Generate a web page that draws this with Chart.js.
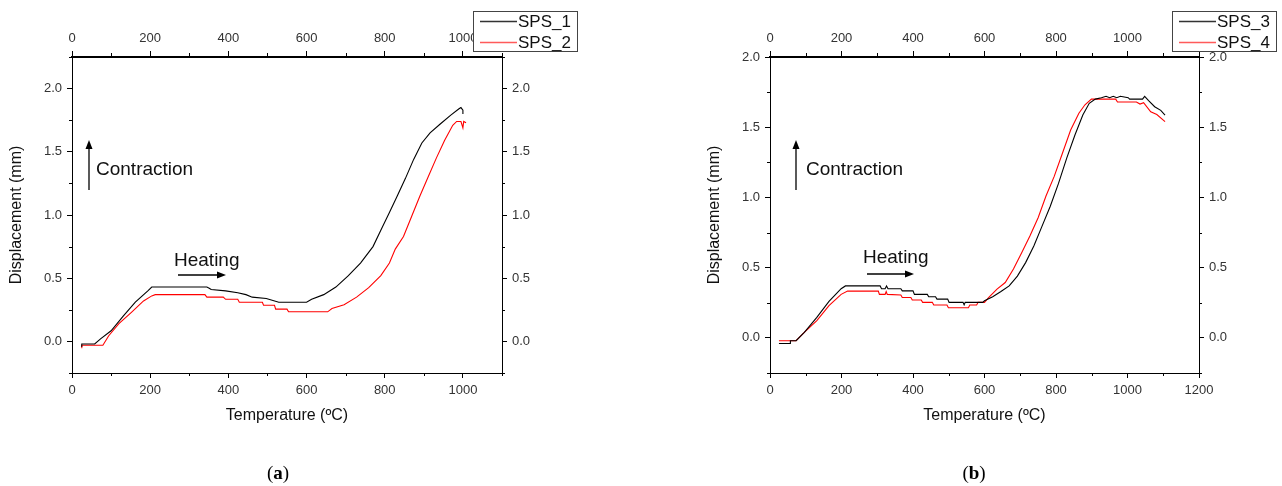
<!DOCTYPE html>
<html>
<head>
<meta charset="utf-8">
<script src="https://cdn.jsdelivr.net/npm/chart.js@4"></script>
<style>
body { margin: 0; background: #fff; }
#wrap { position: relative; width: 1282px; height: 486px; }
canvas { position: absolute; top: 0; }
</style>
</head>
<body>
<div id="wrap">
  <canvas id="chartA" width="641" height="486" style="left:0"></canvas>
  <canvas id="chartB" width="641" height="486" style="left:641px"></canvas>
</div>
<script>
// ---- panel (a) ----
const tempSPS1 = [24, 25, 58, 73, 100, 131, 162, 194, 204, 215, 345, 351, 356, 393, 424, 445, 461, 497, 529, 600, 613, 644, 675, 707, 738, 770, 790, 812, 832, 853, 874, 895, 916, 942, 969, 990, 995, 1000, 1000];
const dispSPS1 = [-0.04, -0.02, -0.02, 0.02, 0.084, 0.2, 0.31, 0.40, 0.43, 0.43, 0.43, 0.42, 0.41, 0.40, 0.385, 0.37, 0.35, 0.34, 0.31, 0.31, 0.333, 0.37, 0.43, 0.52, 0.62, 0.75, 0.88, 1.02, 1.15, 1.29, 1.44, 1.57, 1.65, 1.72, 1.79, 1.84, 1.85, 1.83, 1.80];

const tempSPS2 = [24, 25, 79, 94, 120, 152, 183, 204, 213, 340, 345, 387, 393, 424, 428, 487, 490, 518, 521, 550, 554, 654, 665, 696, 728, 759, 790, 812, 827, 848, 869, 890, 911, 932, 953, 974, 984, 995, 1000, 1002, 1008];
const dispSPS2 = [-0.05, -0.03, -0.03, 0.045, 0.14, 0.23, 0.32, 0.36, 0.37, 0.37, 0.35, 0.35, 0.333, 0.333, 0.31, 0.31, 0.286, 0.286, 0.255, 0.255, 0.234, 0.234, 0.26, 0.29, 0.35, 0.425, 0.52, 0.62, 0.73, 0.83, 0.99, 1.15, 1.30, 1.45, 1.59, 1.71, 1.74, 1.74, 1.69, 1.74, 1.73];

// ---- panel (b) ----
const tempSPS3 = [25, 56, 57, 73, 96, 131, 165, 199, 211, 308, 312, 322, 326, 330, 366, 370, 400, 404, 440, 444, 463, 467, 497, 501, 540, 543, 546, 595, 600, 623, 646, 669, 692, 715, 738, 761, 784, 807, 830, 853, 875, 893, 910, 927, 940, 950, 960, 970, 980, 1002, 1006, 1042, 1048, 1059, 1076, 1093, 1105];
const dispSPS3 = [-0.04, -0.04, -0.02, -0.02, 0.04, 0.146, 0.26, 0.35, 0.37, 0.37, 0.35, 0.35, 0.37, 0.35, 0.35, 0.335, 0.335, 0.31, 0.31, 0.293, 0.293, 0.276, 0.276, 0.253, 0.253, 0.235, 0.253, 0.253, 0.264, 0.293, 0.33, 0.37, 0.44, 0.536, 0.654, 0.796, 0.937, 1.10, 1.28, 1.445, 1.587, 1.67, 1.70, 1.71, 1.72, 1.71, 1.72, 1.71, 1.72, 1.71, 1.70, 1.70, 1.72, 1.69, 1.646, 1.62, 1.587];

const tempSPS4 = [25, 73, 96, 131, 165, 199, 217, 303, 306, 322, 325, 328, 366, 370, 394, 398, 423, 427, 454, 458, 495, 499, 555, 559, 578, 582, 600, 612, 635, 658, 681, 704, 727, 750, 772, 795, 818, 841, 864, 881, 899, 967, 972, 1025, 1035, 1045, 1065, 1082, 1105];
const dispSPS4 = [-0.02, -0.02, 0.04, 0.123, 0.23, 0.31, 0.333, 0.333, 0.31, 0.31, 0.33, 0.31, 0.305, 0.288, 0.288, 0.27, 0.27, 0.253, 0.253, 0.234, 0.234, 0.215, 0.215, 0.234, 0.234, 0.253, 0.253, 0.288, 0.347, 0.394, 0.49, 0.607, 0.725, 0.855, 1.01, 1.15, 1.315, 1.48, 1.60, 1.66, 1.70, 1.70, 1.68, 1.68, 1.665, 1.675, 1.61, 1.59, 1.54];

// tick values
const xTicksA = [0, 200, 400, 600, 800, 1000];
const xTicksB = [0, 200, 400, 600, 800, 1000, 1200];
const yTicksA = [0, 0.5, 1.0, 1.5, 2.0];
const yTicksB = [0, 0.5, 1.0, 1.5, 2.0];

const FONT = "'Liberation Sans', Arial, sans-serif";

function pts(xs, ys) {
  return xs.map((x, i) => ({ x: x, y: ys[i] }));
}

function minorOf(ticks, step, min, max) {
  const out = [];
  for (let v = ticks[0] - step / 2; v <= max + 1e-9; v += step) {
    if (v >= min - 1e-9) out.push(v);
  }
  return out;
}

function line(ctx, x1, y1, x2, y2) {
  ctx.beginPath(); ctx.moveTo(x1, y1); ctx.lineTo(x2, y2); ctx.stroke();
}

function arrow(ctx, x1, y1, x2, y2) {
  const a = Math.atan2(y2 - y1, x2 - x1);
  const len = 9, w = 3.5;
  const bx = x2 - len * Math.cos(a), by = y2 - len * Math.sin(a);
  ctx.lineWidth = 1.3;
  line(ctx, x1, y1, bx, by);
  ctx.beginPath();
  ctx.moveTo(x2, y2);
  ctx.lineTo(bx + w * Math.sin(a), by - w * Math.cos(a));
  ctx.lineTo(bx - w * Math.sin(a), by + w * Math.cos(a));
  ctx.closePath();
  ctx.fill();
}

const decor = {
  id: 'decor',
  afterDraw(chart, args, o) {
    const ctx = chart.ctx;
    const ca = chart.chartArea;
    const s = chart.scales;
    ctx.save();
    ctx.strokeStyle = '#000';
    ctx.fillStyle = '#000';
    ctx.lineWidth = 1;

    // minor ticks
    const xMin = minorOf(o.xTicks, o.xStep, s.x.min, s.x.max);
    xMin.forEach(v => {
      const px = Math.round(s.x.getPixelForValue(v)) + 0.5;
      line(ctx, px, ca.bottom, px, ca.bottom + 3);
      line(ctx, px, ca.top, px, ca.top - 4);
    });
    const yMin = minorOf(o.yTicks, o.yStep, s.y.min, s.y.max);
    yMin.forEach(v => {
      const py = Math.round(s.y.getPixelForValue(v)) + 0.5;
      line(ctx, ca.left, py, ca.left - 3, py);
      line(ctx, ca.right, py, ca.right + 3, py);
    });

    // annotations
    arrow(ctx, o.up.x, o.up.y1, o.up.x, o.up.y2);
    arrow(ctx, o.right.x1, o.right.y, o.right.x2, o.right.y);
    ctx.font = '19px ' + FONT;
    ctx.fillStyle = '#111';
    ctx.textBaseline = 'middle';
    ctx.textAlign = 'left';
    ctx.fillText('Contraction', o.contraction.x, o.contraction.y);
    ctx.fillText('Heating', o.heating.x, o.heating.y);

    // panel label
    const serif = "'Liberation Serif', 'DejaVu Serif', serif";
    ctx.fillStyle = '#000';
    ctx.font = '19px ' + serif;
    const wp = ctx.measureText('(').width;
    ctx.font = 'bold 19px ' + serif;
    const wl = ctx.measureText(o.panel).width;
    let x0 = o.panelX - (2 * wp + wl) / 2;
    ctx.font = '19px ' + serif;
    ctx.fillText('(', x0, o.panelY);
    ctx.font = 'bold 19px ' + serif;
    ctx.fillText(o.panel, x0 + wp, o.panelY);
    ctx.font = '19px ' + serif;
    ctx.fillText(')', x0 + wp + wl, o.panelY);

    // legend box
    const L = o.legend;
    ctx.fillStyle = '#fff';
    ctx.fillRect(L.x, L.y, L.w, L.h);
    ctx.strokeStyle = '#444';
    ctx.lineWidth = 1;
    ctx.strokeRect(L.x + 0.5, L.y + 0.5, L.w, L.h);
    ctx.font = '17px ' + FONT;
    chart.data.datasets.forEach((ds, i) => {
      const ry = L.y + 10.5 + i * 21;
      ctx.strokeStyle = ds.legendColor;
      ctx.lineWidth = 1.3;
      line(ctx, L.x + 7, ry, L.x + 44, ry);
      ctx.fillStyle = '#111';
      ctx.fillText(ds.label, L.x + 45, ry + 1);
    });
    ctx.restore();
  }
};

function makeChart(id, c) {
  const tickFont = { family: FONT, size: 13 };
  const xAxis = (pos) => ({
    type: 'linear',
    position: pos,
    min: c.xMin, max: c.xMax,
    afterBuildTicks: sc => { sc.ticks = c.xTicks.map(v => ({ value: v })); },
    afterFit: sc => { sc.height = pos === 'bottom' ? c.bottomH : c.topH; },
    ticks: { font: tickFont, color: '#333', padding: 5, maxRotation: 0, autoSkip: false, callback: v => String(v) },
    grid: { drawOnChartArea: false, tickLength: pos === 'top' ? 6 : 5, tickColor: '#000', tickWidth: 1 },
    border: { color: '#000', width: pos === 'top' ? 2 : 1 },
    title: pos === 'bottom'
      ? { display: true, text: 'Temperature (ºC)', color: '#111', font: { family: FONT, size: 16 }, padding: { top: 0, bottom: 61 } }
      : { display: false }
  });
  const yAxis = (pos) => ({
    type: 'linear',
    position: pos,
    min: c.yMin, max: c.yMax,
    afterBuildTicks: sc => { sc.ticks = c.yTicks.map(v => ({ value: v })); },
    afterFit: sc => { sc.width = pos === 'left' ? c.leftW : c.rightW; },
    ticks: { font: tickFont, color: '#333', padding: 5, callback: v => v.toFixed(1) },
    grid: { drawOnChartArea: false, tickLength: 5, tickColor: '#000', tickWidth: 1 },
    border: { color: '#000', width: 1 },
    title: pos === 'left'
      ? { display: true, text: 'Displacement (mm)', color: '#111', font: { family: FONT, size: 16 }, padding: { top: c.yTitlePad, bottom: 0 } }
      : { display: false }
  });

  return new Chart(document.getElementById(id), {
    type: 'line',
    data: {
      datasets: c.series.map(s => ({
        label: s.label,
        data: pts(s.t, s.d),
        borderColor: s.color,
        legendColor: s.legend,
        borderWidth: 1.1,
        pointRadius: 0,
        tension: 0,
        fill: false
      }))
    },
    options: {
      responsive: false,
      animation: false,
      layout: { padding: 0 },
      plugins: {
        legend: { display: false },
        tooltip: { enabled: false },
        decor: c.decor
      },
      scales: {
        x: xAxis('bottom'),
        x2: xAxis('top'),
        y: yAxis('left'),
        y2: yAxis('right')
      }
    },
    plugins: [decor]
  });
}

makeChart('chartA', {
  xMin: 0, xMax: 1100, yMin: -0.25, yMax: 2.25,
  xTicks: xTicksA, yTicks: yTicksA,
  leftW: 72, rightW: 139, topH: 57, bottomH: 113, yTitlePad: 7,
  series: [
    { label: 'SPS_1', t: tempSPS1, d: dispSPS1, color: '#000', legend: '#333' },
    { label: 'SPS_2', t: tempSPS2, d: dispSPS2, color: '#ff0000', legend: '#ff5a5a' }
  ],
  decor: {
    xTicks: xTicksA, xStep: 200, yTicks: yTicksA, yStep: 0.5,
    up: { x: 89, y1: 190, y2: 140 },
    right: { x1: 178, x2: 226, y: 275 },
    contraction: { x: 96, y: 170 },
    heating: { x: 174, y: 261 },
    panel: 'a', panelX: 278, panelY: 474,
    legend: { x: 473, y: 11, w: 104, h: 40 }
  }
});

makeChart('chartB', {
  xMin: 0, xMax: 1200, yMin: -0.25, yMax: 2.0,
  xTicks: xTicksB, yTicks: yTicksB,
  leftW: 129, rightW: 83, topH: 57, bottomH: 113, yTitlePad: 64,
  series: [
    { label: 'SPS_3', t: tempSPS3, d: dispSPS3, color: '#000', legend: '#333' },
    { label: 'SPS_4', t: tempSPS4, d: dispSPS4, color: '#ff0000', legend: '#ff5a5a' }
  ],
  decor: {
    xTicks: xTicksB, xStep: 200, yTicks: yTicksB, yStep: 0.5,
    up: { x: 155, y1: 190, y2: 140 },
    right: { x1: 226, x2: 273, y: 274 },
    contraction: { x: 165, y: 170 },
    heating: { x: 222, y: 258 },
    panel: 'b', panelX: 333, panelY: 474,
    legend: { x: 531, y: 11, w: 104, h: 40 }
  }
});
</script>
</body>
</html>
